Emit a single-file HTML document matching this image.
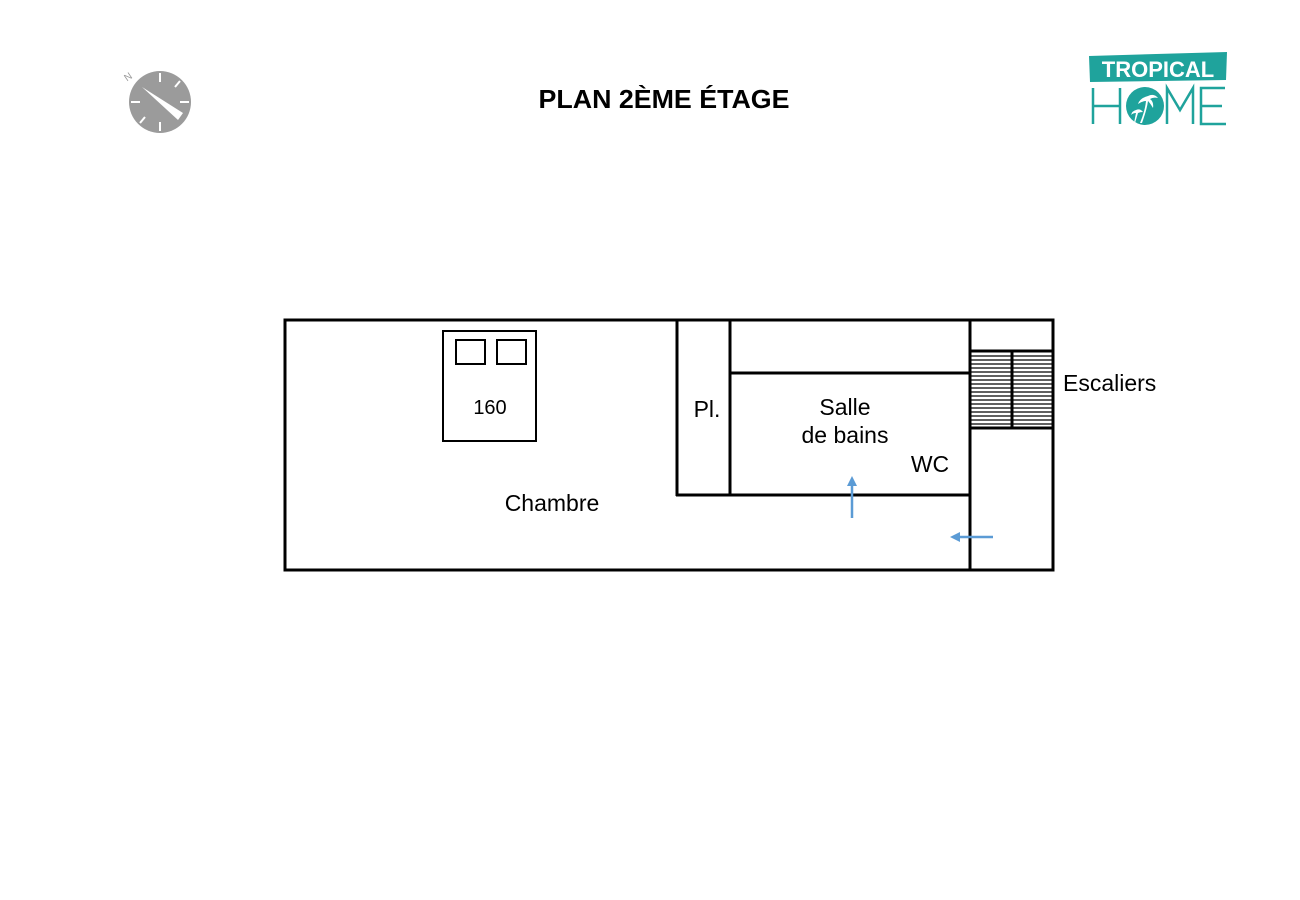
<!DOCTYPE html>
<html><head><meta charset="utf-8"><style>
html,body{margin:0;padding:0;background:#fff;}
svg{display:block;}
text{font-family:"Liberation Sans",Arial,sans-serif;}
</style></head><body>
<svg width="1300" height="900" viewBox="0 0 1300 900" xmlns="http://www.w3.org/2000/svg">
<rect width="1300" height="900" fill="#fff"/>
<!-- compass -->
<g>
<circle cx="160" cy="102" r="31" fill="#9b9b9b"/>
<g stroke="#fff" stroke-width="2">
<line x1="160" y1="73" x2="160" y2="82"/><line x1="160" y1="122" x2="160" y2="131"/>
<line x1="131" y1="102" x2="140" y2="102"/><line x1="180" y1="102" x2="189" y2="102"/>
<line x1="180" y1="81" x2="175" y2="87"/><line x1="140" y1="123" x2="145" y2="117"/>
</g>
<polygon points="142,87 183,113 178,120" fill="#fff"/>
<text x="124" y="80" font-size="10" fill="#9b9b9b" transform="rotate(-35 128 76)">N</text>
</g>
<text x="664" y="108" font-size="26" font-weight="bold" text-anchor="middle" fill="#000" textLength="251" lengthAdjust="spacingAndGlyphs">PLAN 2ÈME ÉTAGE</text>
<!-- logo -->
<g>
<polygon points="1089,56 1227,52 1226,80 1090,82" fill="#1fa39c"/>
<text x="1158" y="77" font-size="22" font-weight="bold" fill="#fff" text-anchor="middle">TROPICAL</text>
<g stroke="#1fa39c" stroke-width="2.5" fill="none">
<path d="M1093,88 V124 M1120,88 V124 M1093,106 H1120"/>
<path d="M1167,124 V88 L1180,110 L1193,88 V124"/>
<path d="M1225,88 H1201 V124 H1226 M1201,106 H1222"/>
</g>
<circle cx="1145" cy="106" r="19" fill="#1fa39c"/>
<g fill="#fff"><path d="M1148,96 q6,-3 10,2 q-5,-1 -8,1 q4,3 3,9 q-3,-5 -5,-7 q-1,8 -6,22 l-2,0 q5,-12 6,-22 q-4,0 -8,3 q2,-6 10,-8z"/>
<path d="M1136,110 q4,-2 7,2 q-3,0 -5,1 l-3,10 l-1,0 l2,-10 q-3,0 -5,2 q1,-4 5,-5z"/></g>
</g>
<!-- plan -->
<g fill="none" stroke="#000" stroke-width="3">
<rect x="285" y="320" width="768" height="250"/>
<line x1="677" y1="320" x2="677" y2="496"/>
<line x1="730" y1="320" x2="730" y2="495"/>
<line x1="676" y1="495" x2="970" y2="495"/>
<line x1="730" y1="373" x2="970" y2="373"/>
<line x1="970" y1="320" x2="970" y2="570"/>
<line x1="970" y1="351" x2="1053" y2="351"/>
<line x1="970" y1="428" x2="1053" y2="428"/>
<line x1="1012" y1="351" x2="1012" y2="428"/>
</g>
<g stroke="#000" stroke-width="1.2">
<line x1="970" y1="356" x2="1053" y2="356"/><line x1="970" y1="360" x2="1053" y2="360"/>
<line x1="970" y1="364" x2="1053" y2="364"/><line x1="970" y1="368" x2="1053" y2="368"/>
<line x1="970" y1="372" x2="1053" y2="372"/><line x1="970" y1="376" x2="1053" y2="376"/>
<line x1="970" y1="380" x2="1053" y2="380"/><line x1="970" y1="384" x2="1053" y2="384"/>
<line x1="970" y1="388" x2="1053" y2="388"/><line x1="970" y1="392" x2="1053" y2="392"/>
<line x1="970" y1="396" x2="1053" y2="396"/><line x1="970" y1="400" x2="1053" y2="400"/>
<line x1="970" y1="404" x2="1053" y2="404"/><line x1="970" y1="408" x2="1053" y2="408"/>
<line x1="970" y1="412" x2="1053" y2="412"/><line x1="970" y1="416" x2="1053" y2="416"/>
<line x1="970" y1="420" x2="1053" y2="420"/><line x1="970" y1="424" x2="1053" y2="424"/>
</g>
<g fill="none" stroke="#000" stroke-width="2">
<rect x="443" y="331" width="93" height="110"/>
<rect x="456" y="340" width="29" height="24"/>
<rect x="497" y="340" width="29" height="24"/>
</g>
<!-- arrows -->
<g stroke="#5b9bd5" stroke-width="2.5" fill="#5b9bd5">
<line x1="852" y1="518" x2="852" y2="484"/>
<polygon points="847,486 857,486 852,476" stroke="none"/>
<line x1="993" y1="537" x2="958" y2="537"/>
<polygon points="960,532 960,542 950,537" stroke="none"/>
</g>
<g font-size="23" fill="#000">
<text x="490" y="414" font-size="20" text-anchor="middle">160</text>
<text x="707" y="417" text-anchor="middle">Pl.</text>
<text x="845" y="415" text-anchor="middle">Salle</text>
<text x="845" y="443" text-anchor="middle">de bains</text>
<text x="930" y="472" text-anchor="middle">WC</text>
<text x="552" y="511" text-anchor="middle">Chambre</text>
<text x="1063" y="391">Escaliers</text>
</g>
</svg>
</body></html>
